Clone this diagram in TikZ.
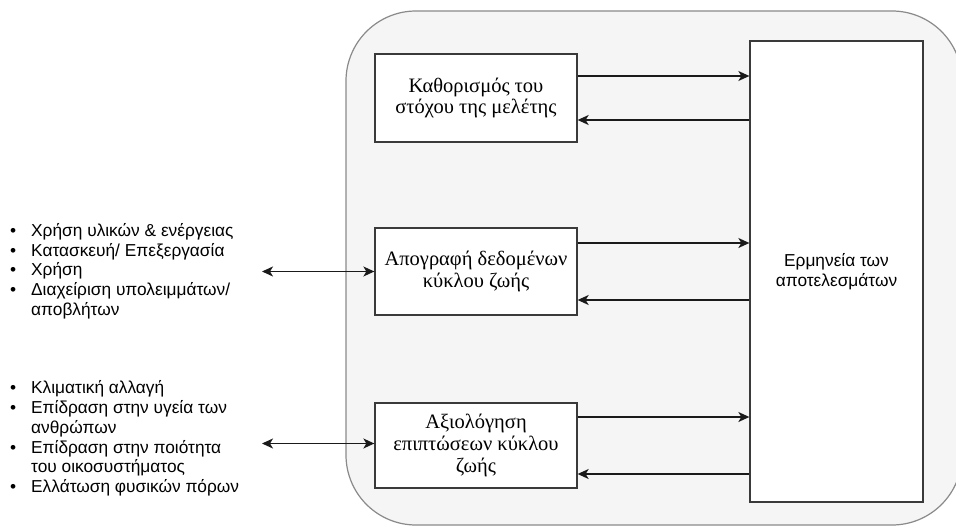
\documentclass[tikz,border=0pt]{standalone}
\usepackage{fontspec}
\setmainfont{Liberation Serif}
\newfontfamily\listfont{Liberation Sans}
\usetikzlibrary{arrows.meta}
\definecolor{panelfill}{HTML}{F5F5F5}
\definecolor{panelline}{HTML}{8A8A8A}
\definecolor{boxline}{HTML}{3A3A3A}
\definecolor{arrowline}{HTML}{1A1A1A}
\newcommand{\itm}{\makebox[21pt][l]{•}}
\newcommand{\cnt}{\hspace*{21pt}}
\begin{document}
\begin{tikzpicture}[x=1pt,y=-1pt,
  stagebox/.style={draw=boxline, fill=white, line width=1.3pt,
    minimum width=202pt, inner sep=0pt, align=center,
    font=\fontsize{20.5}{21.7}\selectfont},
  resultbox/.style={draw=boxline, fill=white, line width=1.3pt,
    minimum width=173pt, minimum height=461pt, inner sep=0pt, align=center,
    font=\listfont\fontsize{17.3}{19.6}\selectfont},
  bullets/.style={anchor=west, inner sep=0pt, align=left,
    font=\listfont\fontsize{17.3}{19.7}\selectfont},
  tip/.tip={Stealth[length=11pt,width=10pt,inset=3pt]},
  flow/.style={draw=arrowline, line width=1.4pt, -tip},
  both/.style={draw=arrowline, line width=1.4pt, tip-tip}]
\clip (0,0) rectangle (956,527);

% grey panel behind the stages
\draw[panelline, fill=panelfill, line width=1.2pt, rounded corners=70pt]
  (346,11) rectangle (962,525);

% stages
\node[stagebox, minimum height=88pt] (goal) at (476,98)
  {Καθορισμός του\\στόχου της μελέτης};
\node[stagebox, minimum height=87pt] (inv) at (476,271.5)
  {Απογραφή δεδομένων\\κύκλου ζωής};
\node[stagebox, minimum height=85pt] (imp) at (476,445.5)
  {Αξιολόγηση\\επιπτώσεων κύκλου\\ζωής};
\node[resultbox] (res) at (836.5,271.5) {Ερμηνεία των\\αποτελεσμάτων};

% stage <-> interpretation
\foreach \s/\d in {goal/22, inv/28.5, imp/28.5}{
  \path ([yshift=\d pt]\s.east) coordinate (\s-out)
        ([yshift=-\d pt]\s.east) coordinate (\s-in);
  \draw[flow] (\s-out) -- (\s-out -| res.west);
  \draw[flow] (\s-in -| res.west) -- (\s-in);
}

% bullet lists
\node[bullets] (inlist) at (10,271)
  {\itm Χρήση υλικών \& ενέργειας\\
   \itm Κατασκευή/ Επεξεργασία\\
   \itm Χρήση\\
   \itm Διαχείριση υπολειμμάτων/\\
   \cnt αποβλήτων};
\node[bullets] (implist) at (10,438.5)
  {\itm Κλιματική αλλαγή\\
   \itm Επίδραση στην υγεία των\\
   \cnt ανθρώπων\\
   \itm Επίδραση στην ποιότητα\\
   \cnt του οικοσυστήματος\\
   \itm Ελλάτωση φυσικών πόρων};

\coordinate (inlist-end) at (262,271.5);
\coordinate (implist-end) at (262,443.5);
\draw[both] (inlist-end) -- (inlist-end -| inv.west);
\draw[both] (implist-end) -- (implist-end -| imp.west);
\end{tikzpicture}
\end{document}
